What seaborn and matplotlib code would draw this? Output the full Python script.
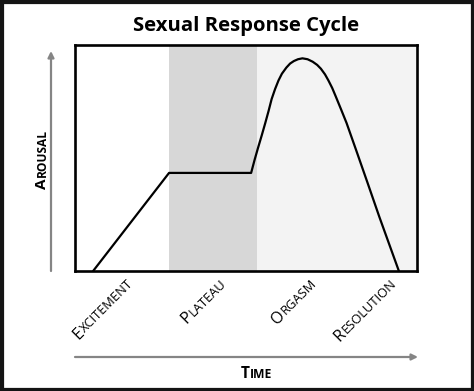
import numpy as np
import pandas as pd
import matplotlib
matplotlib.use("Agg")
import matplotlib.pyplot as plt
import seaborn as sns
from matplotlib.font_manager import FontProperties
from matplotlib.patches import Rectangle

# ---------------- data ----------------
title = "Sexual Response Cycle"
x_label = "Time"
y_label = "Arousal"
phases = ["Excitement", "Plateau", "Orgasm", "Resolution"]
# phase boundaries on the time axis (0-100)
plateau_span = [27.5, 53.2]
orgasm_resolution_span = [53.2, 100.0]
# response curve
time = [5.3, 27.5, 51.5, 52.5, 53.5, 54.6, 55.6, 56.6, 57.5, 58.5, 59.5, 60.5,
        61.8, 62.9, 64.0, 65.2, 66.5, 68.0, 69.5, 70.8, 71.9, 73.1, 74.1, 75.2,
        76.2, 77.8, 79.4, 82.2, 85.5, 89.0, 94.7]
arousal = [0.0, 43.4, 43.4, 49.1, 54.4, 60.0, 65.3, 70.8, 76.1, 80.5, 84.3, 87.3,
           90.0, 91.8, 92.9, 93.7, 94.1, 93.7, 92.6, 91.2, 89.5, 87.0, 84.3, 81.0,
           77.4, 71.5, 65.5, 53.5, 39.2, 23.9, 0.0]
# where each rotated phase label ends (time axis units)
phase_label_end = [17.2, 44.5, 70.8, 94.2]

df = pd.DataFrame({"time": time, "arousal": arousal})

# ---------------- style ----------------
sns.set_style("white")
FAM = "Open Sans"
plt.rcParams["font.family"] = [FAM, "DejaVu Sans"]

W, H = 474, 391
fig = plt.figure(figsize=(W / 100, H / 100), dpi=100)
fig.patch.set_facecolor("white")
ax = fig.add_axes([75 / W, (H - 271) / H, 342 / W, 226 / H])

ax.axvspan(*plateau_span, color="#d7d7d7", lw=0, zorder=0)
ax.axvspan(*orgasm_resolution_span, color="#f3f3f3", lw=0, zorder=0)

sns.lineplot(data=df, x="time", y="arousal", sort=False, estimator=None,
             color="black", linewidth=1.6, ax=ax, zorder=3)

ax.set_xlim(0, 100)
ax.set_ylim(0, 100)
ax.set_xticks([])
ax.set_yticks([])
ax.set_xlabel("")
ax.set_ylabel("")
for s in ax.spines.values():
    s.set_visible(True)
    s.set_color("black")
    s.set_linewidth(1.9)

renderer = fig.canvas.get_renderer()


def twidth(s, fp):
    t = fig.text(0, 0, s, fontproperties=fp)
    w = t.get_window_extent(renderer).width * 72.0 / fig.dpi
    t.remove()
    return w


def small_caps(word, xy, xycoords, size, ratio, rot, weight, align):
    first, rest = word[0].upper(), word[1:].upper()
    fp1 = FontProperties(family=FAM, size=size, weight=weight)
    fp2 = FontProperties(family=FAM, size=size * ratio, weight=weight)
    w1 = twidth(first, fp1) + 0.04 * size
    w2 = twidth(rest, fp2)
    total = w1 + w2
    start = -total if align == "right" else -total / 2
    ux, uy = np.cos(np.radians(rot)), np.sin(np.radians(rot))
    for txt, fp, off in [(first, fp1, start), (rest, fp2, start + w1)]:
        ax.annotate(txt, xy=xy, xycoords=xycoords,
                    xytext=(off * ux, off * uy), textcoords="offset points",
                    ha="left", va="baseline", rotation=rot,
                    rotation_mode="anchor", fontproperties=fp,
                    color="black", annotation_clip=False)


# phase labels
xform = ax.get_xaxis_transform()
label_y = (271 - 284.0) / 226
for name, xe in zip(phases, phase_label_end):
    small_caps(name, (xe, label_y), xform, 11.6, 0.8, 45, "normal", "right")

# axis titles
small_caps(x_label, (256.7, H - 378.5), "figure pixels", 11.2, 0.78, 0, "bold", "center")
small_caps(y_label, (45.5, H - 159), "figure pixels", 11.0, 0.78, 90, "bold", "center")

# arrows
arrow_kw = dict(arrowstyle="-|>", color="#858585", lw=1.6, mutation_scale=9,
                shrinkA=0, shrinkB=0)
ax.annotate("", xy=(51, H - 51), xycoords="figure pixels",
            xytext=(51, H - 271), textcoords="figure pixels",
            arrowprops=arrow_kw, annotation_clip=False)
ax.annotate("", xy=(418, H - 357), xycoords="figure pixels",
            xytext=(75, H - 357), textcoords="figure pixels",
            arrowprops=arrow_kw, annotation_clip=False)

# title
fig.text(246 / W, (H - 30.7) / H, title, ha="center", va="baseline",
         fontsize=14.6, fontweight="bold", family=FAM, color="black")

# outer frame
fig.add_artist(Rectangle((0, 0), 1, 1, transform=fig.transFigure, fill=False,
                         edgecolor="#141414", linewidth=5.2, clip_on=False))

fig.savefig("out.png", dpi=100)
